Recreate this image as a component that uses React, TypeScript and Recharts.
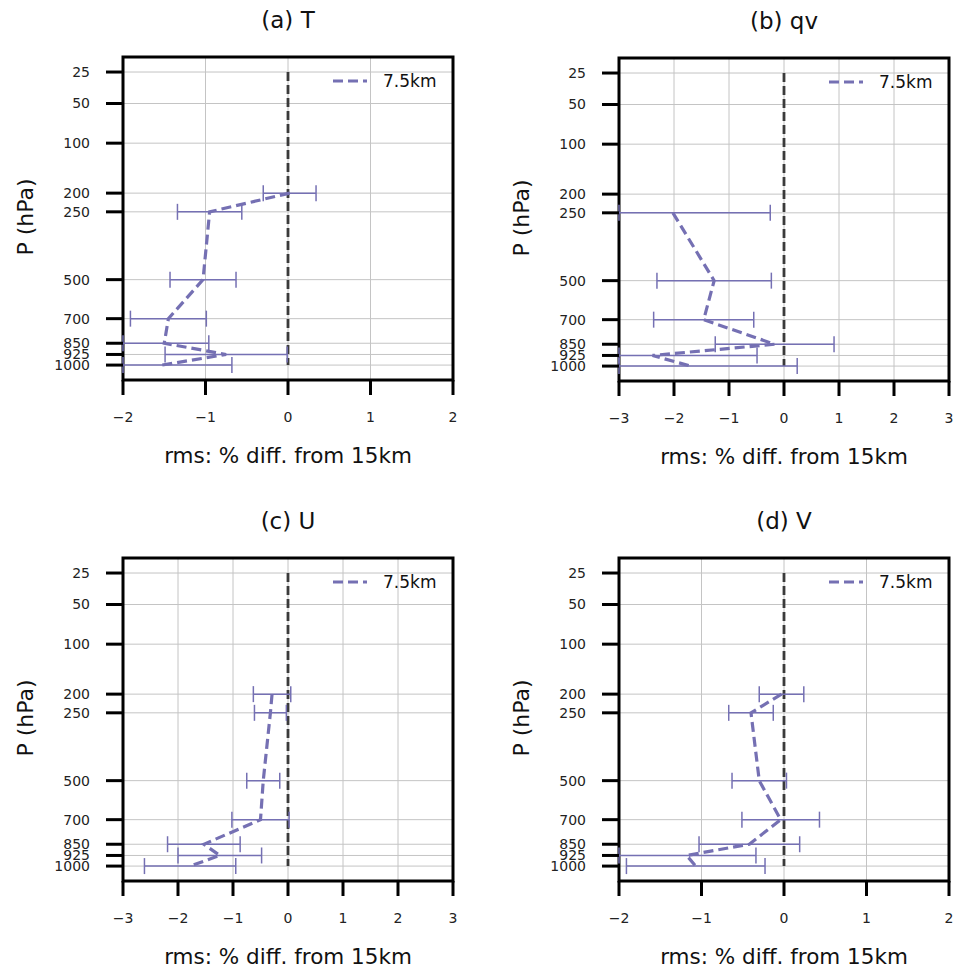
import React from 'react';
import { LineChart, Line, XAxis, YAxis, CartesianGrid, ErrorBar, ReferenceArea } from 'recharts';

// pressure tick levels (hPa)
const tickLevels = [25, 50, 100, 200, 250, 500, 700, 850, 925, 1000];
const fullLevels = [200, 250, 500, 700, 850, 925, 1000];
const qvLevels = [250, 500, 700, 850, 925, 1000];

// % rms difference of 7.5km run vs 15km, with error half-widths
const tMean = [0.02, -0.95, -1.03, -1.45, -1.5, -0.75, -1.53];
const tErr = [0.32, 0.39, 0.4, 0.46, 0.54, 0.74, 0.85];

const qvMean = [-2.02, -1.27, -1.46, -0.17, -2.39, -1.7];
const qvErr = [1.77, 1.04, 0.91, 1.08, 1.9, 1.94];

const uMean = [-0.29, -0.32, -0.45, -0.5, -1.53, -1.24, -1.78];
const uErr = [0.34, 0.29, 0.3, 0.52, 0.66, 0.76, 0.83];

const vMean = [-0.03, -0.4, -0.3, -0.04, -0.42, -1.18, -1.07];
const vErr = [0.27, 0.27, 0.33, 0.47, 0.61, 0.84, 0.84];

const zeroLevels = [25, 1000];

const P_TOP = 16.8;
const P_BOTTOM = 1112;

const SERIES = '#7570b3';
const FONT = '"DejaVu Sans", sans-serif';

// vertical axis is drawn in p^(1/3)
const toY = (p: number) => Math.cbrt(p);

const fmtX = (v: number) => (v < 0 ? '\u2212' + Math.abs(v) : String(v));

interface PanelProps {
  title: string;
  levels: number[];
  mean: number[];
  err: number[];
  xMax: number;
  left: number;
  top: number;
}

const Panel: React.FC<PanelProps> = ({ title, levels, mean, err, xMax, left, top }) => {
  // error bars are cut at the frame, like the axes clip in the original
  const data = levels.map((p, i) => ({
    y: toY(p),
    x: mean[i],
    err: [Math.min(err[i], mean[i] + xMax), Math.min(err[i], xMax - mean[i])],
  }));
  const zero = zeroLevels.map((p) => ({ y: toY(p), x: 0 }));
  const xTicks: number[] = [];
  for (let v = -xMax; v <= xMax; v++) xTicks.push(v);

  const W = 458;
  const H = 480;
  const plotLeft = 123;
  const plotRight = 453;
  const plotTop = 57;
  const plotBottom = 380;
  const cx = (plotLeft + plotRight) / 2;

  return (
    <div style={{ position: 'absolute', left, top, width: W, height: H, fontFamily: FONT }}>
      <LineChart
        width={W}
        height={H}
        layout="vertical"
        margin={{ top: plotTop, right: W - plotRight, bottom: H - plotBottom - 30, left: 63 }}
      >
        <CartesianGrid stroke="#c4c4c4" strokeWidth={1} />
        <XAxis
          type="number"
          dataKey="x"
          domain={[-xMax, xMax]}
          ticks={xTicks}
          allowDataOverflow
          tickFormatter={fmtX}
          axisLine={false}
          tickSize={15}
          tickMargin={17}
          tickLine={{ stroke: '#000', strokeWidth: 3 }}
          tick={{ fontSize: 14, fill: '#222', fontFamily: FONT }}
          height={30}
        />
        <YAxis
          type="number"
          dataKey="y"
          domain={[toY(P_TOP), toY(P_BOTTOM)]}
          allowDataOverflow
          ticks={tickLevels.map(toY)}
          tickFormatter={(v: number) => String(Math.round(v * v * v))}
          axisLine={false}
          tickSize={17}
          tickMargin={16}
          tickLine={{ stroke: '#000', strokeWidth: 3 }}
          tick={{ fontSize: 14, fill: '#222', fontFamily: FONT }}
          width={60}
          interval={0}
        />
        <Line
          data={zero}
          dataKey="x"
          stroke="#3a3a3a"
          strokeWidth={2.8}
          strokeDasharray="9 4"
          dot={false}
          activeDot={false}
          isAnimationActive={false}
        />
        <Line
          data={data}
          dataKey="x"
          stroke={SERIES}
          strokeWidth={3.2}
          strokeDasharray="10 5"
          dot={false}
          activeDot={false}
          isAnimationActive={false}
        >
          <ErrorBar dataKey="err" direction="x" width={8} stroke={SERIES} strokeWidth={1.5} />
        </Line>
        <ReferenceArea
          x1={-xMax}
          x2={xMax}
          y1={toY(P_TOP)}
          y2={toY(P_BOTTOM)}
          fill="none"
          fillOpacity={0}
          stroke="#000"
          strokeWidth={3}
          ifOverflow="visible"
        />
      </LineChart>

      <div
        style={{
          position: 'absolute',
          left: cx - 100,
          width: 200,
          top: 7,
          textAlign: 'center',
          fontSize: 23,
          color: '#111',
        }}
      >
        {title}
      </div>
      <div
        style={{
          position: 'absolute',
          left: 25,
          top: 217,
          transform: 'translate(-50%, -50%) rotate(-90deg)',
          fontSize: 22,
          color: '#111',
          whiteSpace: 'nowrap',
        }}
      >
        P (hPa)
      </div>
      <div
        style={{
          position: 'absolute',
          left: cx - 160,
          width: 320,
          top: 443,
          textAlign: 'center',
          fontSize: 21.5,
          color: '#111',
          whiteSpace: 'nowrap',
        }}
      >
        rms: % diff. from 15km
      </div>
      <div
        style={{
          position: 'absolute',
          left: plotRight - 120,
          top: 71,
          display: 'flex',
          alignItems: 'center',
          fontSize: 17,
          color: '#111',
        }}
      >
        <svg width={34} height={6} style={{ marginRight: 16 }}>
          <line x1={0} y1={3} x2={34} y2={3} stroke={SERIES} strokeWidth={3} strokeDasharray="10 5" />
        </svg>
        <span>7.5km</span>
      </div>
    </div>
  );
};

export default function App() {
  return (
    <div style={{ position: 'absolute', left: 0, top: 0, width: 954, height: 971, background: '#fff' }}>
      <Panel title="(a) T" levels={fullLevels} mean={tMean} err={tErr} xMax={2} left={0} top={0} />
      <Panel title="(b) qv" levels={qvLevels} mean={qvMean} err={qvErr} xMax={3} left={496} top={1} />
      <Panel title="(c) U" levels={fullLevels} mean={uMean} err={uErr} xMax={3} left={0} top={501} />
      <Panel title="(d) V" levels={fullLevels} mean={vMean} err={vErr} xMax={2} left={496} top={501} />
    </div>
  );
}
